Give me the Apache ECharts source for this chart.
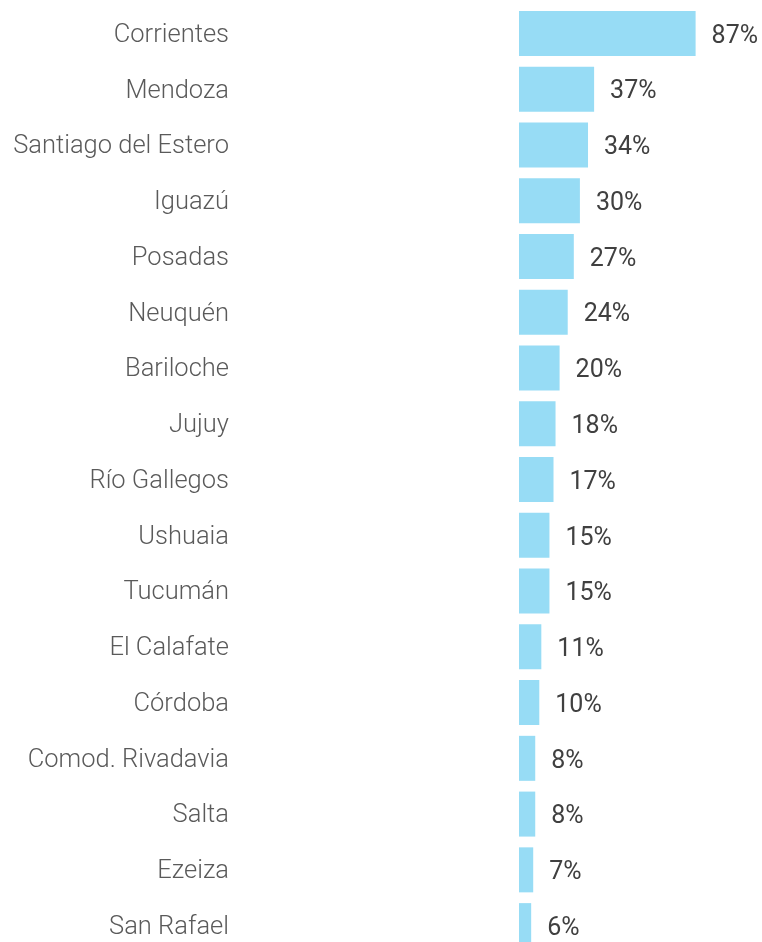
<!DOCTYPE html>
<html>
<head>
<meta charset="utf-8">
<script src="https://cdn.jsdelivr.net/npm/echarts@6/dist/echarts.min.js"></script>
<style>
  html, body { margin: 0; padding: 0; background: #fff; }
  #chart { width: 762px; height: 942px; }
</style>
</head>
<body>
<div id="chart"></div>
<script>
// categorías (de arriba hacia abajo)
var ciudades = ["Corrientes", "Mendoza", "Santiago del Estero", "Iguazú", "Posadas", "Neuquén",
  "Bariloche", "Jujuy", "Río Gallegos", "Ushuaia", "Tucumán", "El Calafate", "Córdoba",
  "Comod. Rivadavia", "Salta", "Ezeiza", "San Rafael"];
// porcentajes
var valores = [87, 37, 34, 30, 27, 24, 20, 18, 17, 15, 15, 11, 10, 8, 8, 7, 6];

var chart = echarts.init(document.getElementById("chart"));

var option = {
  animation: false,
  grid: {
    left: 519,
    right: 40,
    top: 5.5,
    height: 948,
    outerBoundsMode: "none"
  },
  xAxis: {
    type: "value",
    min: 0,
    max: 100,
    show: false
  },
  yAxis: {
    type: "category",
    inverse: true,
    data: ciudades,
    axisLine: { show: false },
    axisTick: { show: false },
    axisLabel: {
      margin: 290,
      formatter: function (v) { return "{c|" + v + "}"; },
      rich: {
        c: {
          fontFamily: "Roboto",
          fontWeight: 300,
          fontSize: 25.5,
          color: "#5a5a5a",
          padding: [4, 0, 0, 0]
        }
      }
    }
  },
  series: [
    {
      type: "bar",
      data: valores,
      barWidth: 45,
      itemStyle: { color: "#97dcf5" },
      label: {
        show: true,
        position: "right",
        distance: 16,
        offset: [0, 3],
        formatter: "{c}%",
        fontFamily: "Roboto",
        fontSize: 25,
        color: "#404040"
      }
    }
  ]
};

chart.setOption(option);
</script>
</body>
</html>
